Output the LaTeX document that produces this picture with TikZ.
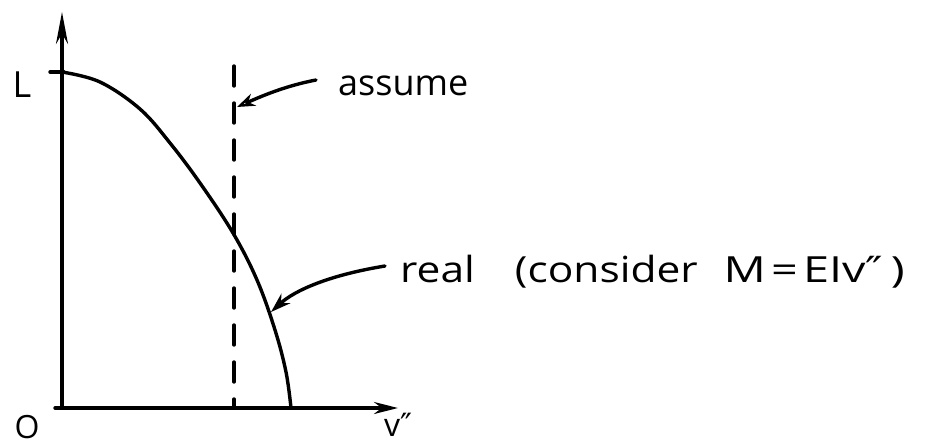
\documentclass[tikz,border=0pt]{standalone}
\usepackage{fontspec}
\setmainfont{Open Sans}
\newfontfamily\dvsym{DejaVu Sans}
\usetikzlibrary{arrows.meta}
\begin{document}
\begin{tikzpicture}[x=1pt,y=-1pt,
  ink/.style={line width=3.4pt,line cap=round,line join=round},
  lbl/.style={font=\fontsize{36}{42}\selectfont,inner sep=0pt},
  small/.style={font=\fontsize{32}{38}\selectfont,inner sep=0pt},
  tipopen/.style={-{Stealth[length=18pt,width=13pt,open,line width=2.4pt]}},
  tipfill/.style={-{Stealth[length=20pt,width=13pt]}}]
\useasboundingbox (0,0) rectangle (944,447);
% axes
\coordinate (o) at (62,408);
\coordinate (ytop) at (62,12);
\coordinate (xend) at (398,408);
\coordinate (xstart) at (55,408);
\draw[ink,-{Stealth[length=32pt,width=12pt]}] (o) -- (ytop);
\draw[ink,-{Stealth[length=24pt,width=12pt]}] (xstart) -- (xend);
% L tick
\coordinate (Lt) at (64,72);
\coordinate (Ls) at (50,72);
\draw[ink] (Ls) -- (Lt);
\node[lbl,anchor=center] (L) at (22,85) {L};
\node[small,anchor=base] (O) at (27,438) {O};
\node[small,anchor=base] (v) at (398,436) {v{\dvsym ″}};
% dashed assumption
\coordinate (dtop) at (234,66);
\coordinate (dbot) at (234,408);
\draw[ink,dash pattern=on 20pt off 17pt] (dtop) -- (dbot);
% real curve
\draw[ink] plot[smooth,tension=0.6] coordinates {(62,72) (100,82) (140,109) (170,143) (200,183) (233,233) (257,280) (275,330) (286,372) (291,408)};
% labels
\node[lbl,anchor=west] (assume) at (338,86) {assume};
\coordinate (a1) at (316,80);
\coordinate (a2) at (237,107);
\draw[ink,tipopen] (a1) .. controls (285,86) and (262,96) .. (a2);
\node[lbl,anchor=west] (real) at (400,272) {\scalebox{1.18}[1]{real\hspace{34pt}(consider\hspace{22pt}}\scalebox{1.3}[1]{M\hspace{4pt}=\hspace{4pt}EIv{\dvsym ″}\hspace{6pt})}};
\coordinate (r1) at (385,266);
\coordinate (r2) at (271,312);
\draw[ink,tipfill] (r1) .. controls (330,275) and (295,290) .. (r2);
\end{tikzpicture}
\end{document}
